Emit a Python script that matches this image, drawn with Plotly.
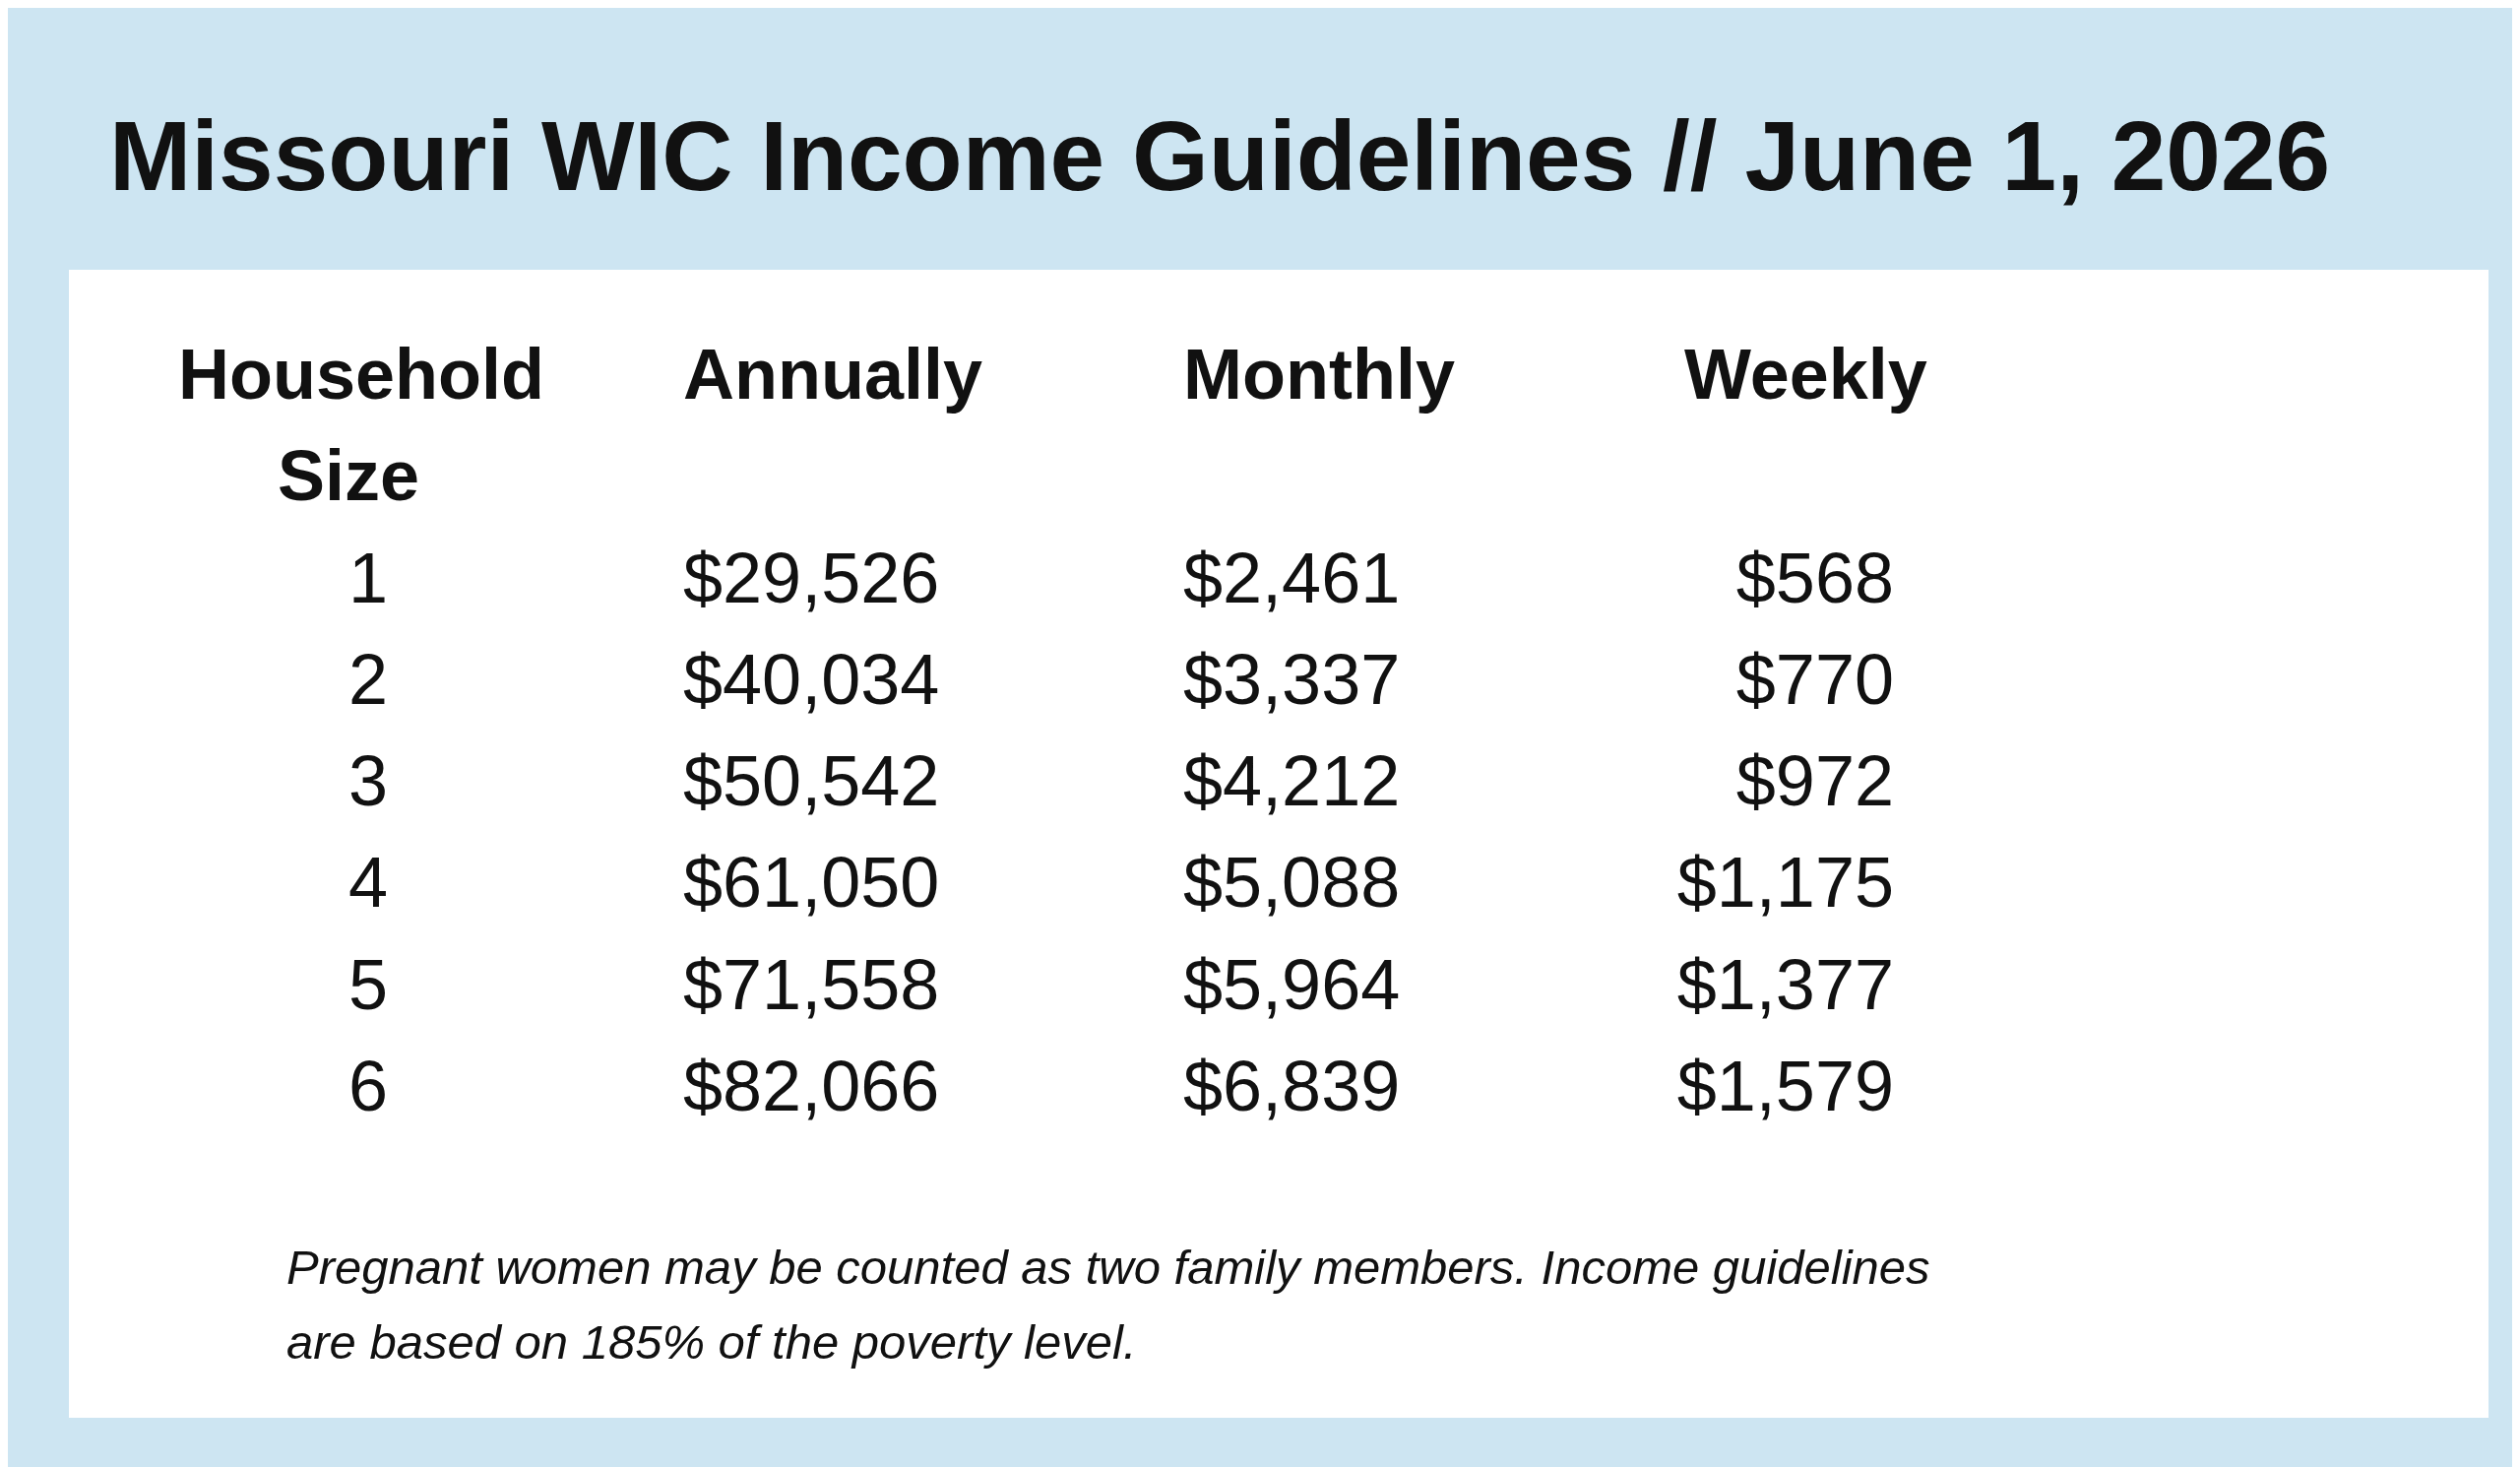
import plotly.graph_objects as go

title = "Missouri WIC Income Guidelines // June 1, 2026"
headers = ["Household", "Annually", "Monthly", "Weekly"]
household = ["1", "2", "3", "4", "5", "6"]
annually = ["$29,526", "$40,034", "$50,542", "$61,050", "$71,558", "$82,066"]
monthly = ["$2,461", "$3,337", "$4,212", "$5,088", "$5,964", "$6,839"]
weekly = ["$568", "$770", "$972", "$1,175", "$1,377", "$1,579"]
footnote = ["Pregnant women may be counted as two family members. Income guidelines",
            "are based on 185% of the poverty level."]

W, H = 2560, 1490
row_y = [586, 689, 792, 895, 999, 1102]
FONT = "Liberation Sans, Arial, sans-serif"
fs = 72

fig = go.Figure()
def col(x, texts, pos, bold=False, ys=row_y):
    fig.add_trace(go.Scatter(x=[x]*len(texts), y=ys, mode="text", text=[f"<b>{t}</b>" if bold else t for t in texts],
                             textposition=pos, textfont=dict(family=FONT, size=fs, color="#111"),
                             hoverinfo="skip", showlegend=False))

col(366, household, "middle center")
col(686, annually, "middle right")
col(1194, monthly, "middle right")
col(1916, weekly, "middle left")
col(359, [headers[0]], "middle center", True, [379])
col(346, ["Size"], "middle center", True, [482])
col(686, [headers[1]], "middle right", True, [379])
col(1194, [headers[2]], "middle right", True, [379])
col(1703, [headers[3]], "middle right", True, [379])

fig.add_shape(type="rect", x0=62, x1=2520, y0=266, y1=1432, fillcolor="white", line_width=0, layer="below")
fig.add_annotation(x=101, y=150, text=f"<b>{title}</b>", showarrow=False, xanchor="left", yanchor="middle",
                   font=dict(family=FONT, size=100, color="#111"))
for i, line in enumerate(footnote):
    fig.add_annotation(x=281, y=[1279, 1355][i], text=f"<i>{line}</i>", showarrow=False, xanchor="left",
                       yanchor="middle", font=dict(family=FONT, size=49, color="#111"))

fig.update_layout(width=W, height=H, margin=dict(l=0, r=0, t=0, b=0),
                  paper_bgcolor="#CDE5F2", plot_bgcolor="#CDE5F2",
                  xaxis=dict(range=[0, W], visible=False, fixedrange=True),
                  yaxis=dict(range=[H, 0], visible=False, fixedrange=True))
fig.write_html("out.html", config={"displayModeBar": False})
